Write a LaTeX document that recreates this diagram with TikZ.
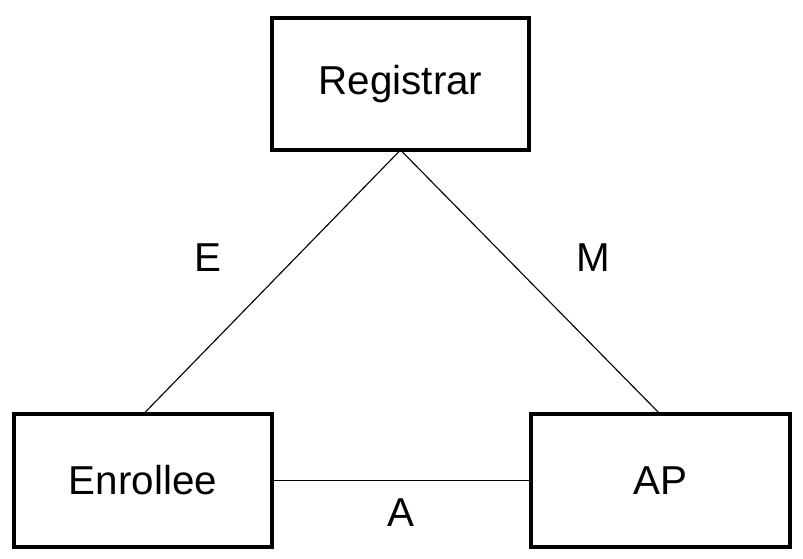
\documentclass[tikz,border=0pt]{standalone}
\usepackage{fontspec}
\setmainfont{Liberation Sans}
\usetikzlibrary{positioning}
\tikzset{
  party/.style={draw=black,line width=0.1cm,fill=white,minimum width=6.43cm,
    minimum height=3.3cm,outer sep=0pt,font=\fontsize{28.7}{34}\selectfont},
  link/.style={draw=black,line width=0.8pt},
  linklabel/.style={inner sep=0pt,font=\fontsize{28.7}{34}\selectfont}
}

\begin{document}
\begin{tikzpicture}[x=0.025cm,y=0.025cm]
  \useasboundingbox (0,0) rectangle (803,559);
  \node[party] (registrar) at (400.5,475) {Registrar};
  \node[party] (enrollee) at (143,78.5) {Enrollee};
  \node[party,minimum width=6.48cm] (ap) at (660.5,78.5) {AP};
  \draw[link] (registrar.south) -- (enrollee.north);
  \draw[link] (registrar.south) -- (ap.north);
  \draw[link] (enrollee.east) -- (ap.west);
  \node[linklabel] (labelE) at (208,301) {E};
  \node[linklabel] (labelM) at (593,301) {M};
  \node[linklabel] (labelA) at (401,46) {A};
\end{tikzpicture}
\end{document}
